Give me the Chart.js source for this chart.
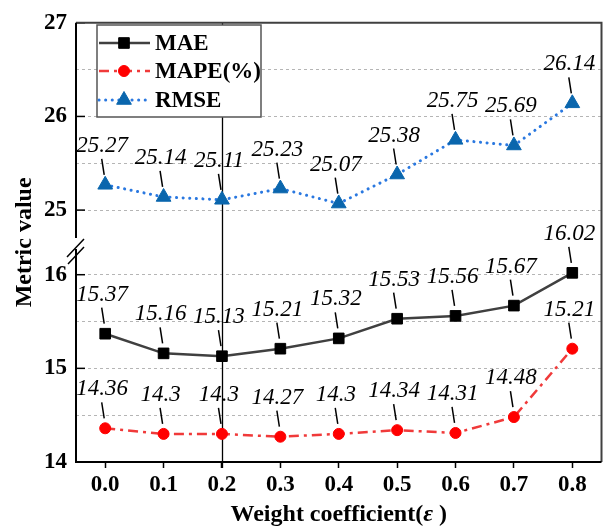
<!DOCTYPE html>
<html>
<head>
<meta charset="utf-8">
<script src="https://cdn.jsdelivr.net/npm/chart.js@4"></script>
<style>
  html, body { margin: 0; padding: 0; background: #fff; }
  #wrap { width: 611px; height: 527px; }
</style>
</head>
<body>
<div id="wrap"><canvas id="myChart"></canvas></div>
<script>
const categories = ['0.0', '0.1', '0.2', '0.3', '0.4', '0.5', '0.6', '0.7', '0.8'];
const maeValues = [15.37, 15.16, 15.13, 15.21, 15.32, 15.53, 15.56, 15.67, 16.02];
const mapeValues = [14.36, 14.3, 14.3, 14.27, 14.3, 14.34, 14.31, 14.48, 15.21];
const rmseValues = [25.27, 25.14, 25.11, 25.23, 25.07, 25.38, 25.75, 25.69, 26.14];
const lowerTicks = [14, 14.5, 15, 15.5, 16];
const upperTicks = [25, 25.5, 26, 26.5, 27];

// broken y axis: lower part 14..16.35, upper part 24.66..27
const BREAK_LOW = 16.35;
const OFF = 8.31;
const toAxis = v => v > 20 ? v - OFF : v;
const fromAxis = v => v > BREAK_LOW ? v + OFF : v;

const serif = '"Liberation Serif", "Times New Roman", serif';

const labelPlugin = {
    id: 'labels',
    beforeDatasetsDraw(chart) {
        // vertical line at 0.2
        const ctx = chart.ctx;
        const area = chart.chartArea;
        const x = Math.round(chart.scales.x.getPixelForValue(2)) + 0.5;
        ctx.save();
        ctx.strokeStyle = '#000';
        ctx.lineWidth = 1.3;
        ctx.beginPath();
        ctx.moveTo(x, area.top);
        ctx.lineTo(x, area.bottom + 6);
        ctx.stroke();
        ctx.restore();
    },
    afterDatasetsDraw(chart) {
        const ctx = chart.ctx;
        const lists = [maeValues, mapeValues, rmseValues];
        ctx.save();
        ctx.font = 'italic 23px ' + serif;
        ctx.textAlign = 'center';
        ctx.textBaseline = 'alphabetic';
        ctx.fillStyle = '#000';
        ctx.strokeStyle = '#000';
        ctx.lineWidth = 1.5;
        lists.forEach((vals, di) => {
            const meta = chart.getDatasetMeta(di);
            meta.data.forEach((pt, i) => {
                ctx.beginPath();
                ctx.moveTo(pt.x - 3.5, pt.y - 26);
                ctx.lineTo(pt.x - 1, pt.y - 10);
                ctx.stroke();
                ctx.fillText(String(vals[i]), pt.x - 3, pt.y - 33);
            });
        });
        ctx.restore();
    },
    afterDraw(chart) {
        const ctx = chart.ctx;
        const area = chart.chartArea;
        const y = chart.scales.y;
        const breakPx = y.getPixelForValue(BREAK_LOW);
        ctx.save();

        // inward ticks on y axis
        ctx.strokeStyle = '#000';
        ctx.lineWidth = 1.5;
        [14, 15, 16, 25, 26, 27].forEach(v => {
            const py = y.getPixelForValue(toAxis(v));
            ctx.beginPath();
            ctx.moveTo(area.left, py);
            ctx.lineTo(area.left + 9, py);
            ctx.stroke();
        });

        // frame
        ctx.lineWidth = 2;
        ctx.strokeStyle = '#404040';
        ctx.beginPath();
        ctx.moveTo(area.left, area.top);
        ctx.lineTo(area.right, area.top);
        ctx.lineTo(area.right, area.bottom);
        ctx.stroke();
        ctx.strokeStyle = '#000';
        ctx.beginPath();
        ctx.moveTo(area.right, area.bottom);
        ctx.lineTo(area.left, area.bottom);
        ctx.lineTo(area.left, breakPx + 7);
        ctx.moveTo(area.left, breakPx - 4);
        ctx.lineTo(area.left, area.top);
        ctx.stroke();

        // break marks
        ctx.lineWidth = 1.5;
        ctx.beginPath();
        ctx.moveTo(area.left - 9, breakPx + 15);
        ctx.lineTo(area.left + 8, breakPx - 3);
        ctx.moveTo(area.left - 8, breakPx + 22);
        ctx.lineTo(area.left + 8, breakPx + 5);
        ctx.stroke();

        // legend
        const lx = 97, ly = 25, lw = 164, lh = 92;
        ctx.fillStyle = '#fff';
        ctx.fillRect(lx, ly, lw, lh);
        ctx.strokeStyle = '#555';
        ctx.lineWidth = 1.5;
        ctx.strokeRect(lx, ly, lw, lh);
        const rows = [43, 71, 100];
        const names = ['MAE', 'MAPE(%)', 'RMSE'];
        chart.data.datasets.forEach((ds, i) => {
            const ry = rows[i];
            ctx.save();
            ctx.strokeStyle = ds.borderColor;
            ctx.lineWidth = ds.borderWidth;
            ctx.lineCap = ds.borderCapStyle || 'butt';
            ctx.setLineDash(ds.borderDash || []);
            ctx.beginPath();
            ctx.moveTo(lx + 2, ry);
            ctx.lineTo(lx + 53, ry);
            ctx.stroke();
            ctx.restore();
            ctx.save();
            ctx.fillStyle = ds.pointBackgroundColor;
            ctx.strokeStyle = ds.pointBorderColor;
            ctx.lineWidth = 1;
            Chart.helpers.drawPoint(ctx, {
                pointStyle: ds.pointStyle,
                radius: ds.pointRadius,
                borderWidth: 1
            }, lx + 27, ry);
            ctx.restore();
        });
        ctx.font = 'bold 23px ' + serif;
        ctx.fillStyle = '#000';
        ctx.textAlign = 'left';
        ctx.textBaseline = 'middle';
        names.forEach((n, i) => ctx.fillText(n, 155, rows[i] + 1));

        // axis titles
        ctx.font = 'bold 24px ' + serif;
        ctx.textBaseline = 'alphabetic';
        const p1 = 'Weight coefficient(', p2 = '\u03b5', p3 = ' )';
        const w1 = ctx.measureText(p1).width;
        const w3 = ctx.measureText(p3).width;
        ctx.font = 'bold italic 24px ' + serif;
        const w2 = ctx.measureText(p2).width;
        let tx = (area.left + area.right) / 2 - (w1 + w2 + w3) / 2;
        ctx.font = 'bold 24px ' + serif;
        ctx.fillText(p1, tx, 521);
        ctx.font = 'bold italic 24px ' + serif;
        ctx.fillText(p2, tx + w1, 521);
        ctx.font = 'bold 24px ' + serif;
        ctx.fillText(p3, tx + w1 + w2, 521);

        ctx.translate(25, (area.top + area.bottom) / 2);
        ctx.rotate(-Math.PI / 2);
        ctx.textAlign = 'center';
        ctx.textBaseline = 'middle';
        ctx.fillText('Metric value', 0, 0);
        ctx.restore();
    }
};

const data = {
    labels: categories,
    datasets: [{
        label: 'MAE',
        data: maeValues.map(toAxis),
        borderColor: '#404040',
        borderWidth: 2.5,
        pointStyle: 'rect',
        pointRadius: 7.5,
        pointBackgroundColor: '#000',
        pointBorderColor: '#000',
        pointBorderWidth: 1
    }, {
        label: 'MAPE(%)',
        data: mapeValues.map(toAxis),
        borderColor: '#f03a3a',
        borderWidth: 2.5,
        borderDash: [10, 5, 3, 5],
        pointStyle: 'circle',
        pointRadius: 5.5,
        pointBackgroundColor: '#ff0000',
        pointBorderColor: '#ff0000',
        pointBorderWidth: 1
    }, {
        label: 'RMSE',
        data: rmseValues.map(toAxis),
        borderColor: '#2a78e0',
        borderWidth: 3,
        borderDash: [0.1, 6.5],
        borderCapStyle: 'round',
        pointStyle: 'triangle',
        pointRadius: 8.5,
        pointBackgroundColor: '#0a66ad',
        pointBorderColor: '#0a66ad',
        pointBorderWidth: 1
    }]
};

const config = {
    type: 'line',
    data: data,
    options: {
        responsive: true,
        maintainAspectRatio: false,
        animation: false,
        layout: { padding: { top: 21, right: 4, left: 0, bottom: 0 } },
        plugins: { legend: { display: false }, tooltip: { enabled: false } },
        scales: {
            x: {
                offset: true,
                afterFit: s => { s.height = 65; },
                grid: {
                    drawOnChartArea: false,
                    drawTicks: true,
                    tickLength: 6,
                    tickColor: '#000',
                    tickWidth: 1.5,
                    offset: false
                },
                border: { display: false },
                ticks: {
                    color: '#000',
                    padding: 3,
                    maxRotation: 0,
                    font: { family: serif, size: 23, weight: 'bold' }
                }
            },
            y: {
                min: 14,
                max: 27 - OFF,
                afterFit: s => { s.width = 76; },
                afterBuildTicks: s => {
                    s.ticks = lowerTicks.concat(upperTicks.map(toAxis)).map(v => ({ value: v }));
                },
                grid: {
                    drawTicks: false,
                    lineWidth: 1,
                    color: c => (c.tick && (c.tick.value === 14 || Math.abs(c.tick.value - (27 - OFF)) < 1e-6)) ? 'rgba(0,0,0,0)' : '#b5b5b5'
                },
                border: { display: false, dash: [3, 3] },
                ticks: {
                    color: '#000',
                    padding: 9,
                    font: { family: serif, size: 23, weight: 'bold' },
                    callback: v => {
                        const r = fromAxis(v);
                        return Math.abs(r - Math.round(r)) < 1e-6 ? String(Math.round(r)) : '';
                    }
                }
            }
        }
    },
    plugins: [labelPlugin]
};

const myChart = new Chart(document.getElementById('myChart'), config);
</script>
</body>
</html>
